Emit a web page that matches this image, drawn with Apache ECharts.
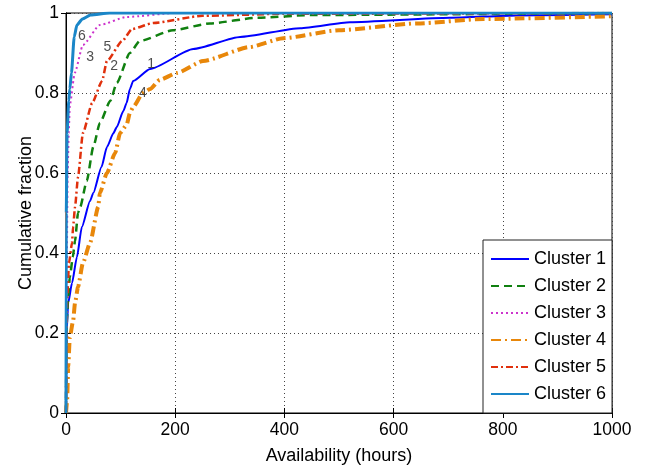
<!DOCTYPE html>
<html>
<head>
<meta charset="utf-8">
<script src="https://cdn.jsdelivr.net/npm/echarts@6/dist/echarts.min.js"></script>
<style>
  html, body { margin: 0; padding: 0; background: #fff; }
  #chart { width: 650px; height: 466px; }
</style>
</head>
<body>
<div id="chart"></div>
<script>
  // [hours, cumulative fraction]
  let cluster1 = [[0,0],[1,0.2],[4,0.275],[11,0.325],[20,0.39],[29,0.465],[44,0.53],[50,0.55],[65,0.615],[75,0.665],[87,0.7],[93,0.715],[105,0.755],[111,0.775],[117,0.81],[123,0.83],[154,0.86],[233,0.91],[319,0.94],[429,0.962],[520,0.977],[703,0.988],[826,0.994],[1000,0.997]];
  let cluster2 = [[0,0],[1,0.22],[4,0.29],[7,0.34],[12.5,0.39],[16.5,0.43],[22,0.5],[26,0.515],[38,0.58],[50,0.665],[62,0.725],[81,0.78],[93,0.825],[117,0.9],[135,0.93],[196,0.957],[264,0.974],[350,0.988],[450,0.995],[1000,1]];
  let cluster3 = [[0,0],[1,0.3],[3,0.6],[5,0.7],[7,0.77],[16,0.85],[31,0.92],[62,0.97],[111,0.99],[200,1],[1000,1]];
  let cluster4 = [[0,0],[2,0.03],[4,0.115],[7,0.19],[13,0.23],[16.5,0.275],[22,0.315],[31,0.375],[44,0.425],[59,0.515],[62,0.55],[75,0.6],[90,0.65],[99,0.7],[111,0.72],[117,0.75],[123,0.765],[141,0.8],[154,0.81],[172,0.833],[203,0.85],[251,0.88],[337,0.915],[398,0.937],[500,0.957],[643,0.974],[765,0.985],[1000,0.992]];
  let cluster5 = [[0,0],[1,0.2],[2,0.28],[5.5,0.375],[11,0.425],[13,0.465],[16.5,0.515],[22,0.59],[31,0.7],[48,0.775],[66,0.83],[75,0.88],[103,0.93],[121,0.96],[160,0.975],[250,0.993],[400,0.998],[1000,1]];
  let cluster6 = [[0,0],[0.5,0.5],[2,0.7],[5,0.78],[7,0.81],[10,0.85],[15,0.94],[20,0.97],[30,0.985],[45,0.995],[80,1],[1000,1]];

  let seriesNames = ['Cluster 1','Cluster 2','Cluster 3','Cluster 4','Cluster 5','Cluster 6'];
  let curveLabels = ['1','2','3','4','5','6'];
  let labelSpots = [[156,0.8725],[88,0.8675],[44,0.89],[141,0.8],[76,0.915],[29.3,0.9425]];
  let xTicks = [0,200,400,600,800,1000];
  let yTicks = [0,0.2,0.4,0.6,0.8,1];

  let chart = echarts.init(document.getElementById('chart'));
  let font = 'Liberation Sans, Arial, sans-serif';

  let styles = [
    {color:'#0000ff', width:2, type:'solid'},
    {color:'#108010', width:2.5, type:[8,5]},
    {color:'#cc33cc', width:2, type:[2,3]},
    {color:'#e8870a', width:4, type:[10,4,2,4]},
    {color:'#e0300c', width:2.5, type:[7,3,2,3]},
    {color:'#1a86c8', width:3, type:'solid'}
  ];
  let allData = [cluster1, cluster2, cluster3, cluster4, cluster5, cluster6];

  let series = allData.map(function (d, i) {
    return {
      name: seriesNames[i],
      type: 'line',
      data: d,
      showSymbol: false,
      symbol: 'none',
      smooth: 0.2,
      smoothMonotone: 'x',
      color: styles[i].color,
      lineStyle: {color: styles[i].color, width: styles[i].width, type: styles[i].type},
      z: 3
    };
  });

  series.push({
    type: 'scatter',
    symbolSize: 0,
    silent: true,
    z: 5,
    data: labelSpots.map(function (p, i) { return {value: p, name: curveLabels[i]}; }),
    label: {
      show: true,
      position: 'inside',
      formatter: '{b}',
      color: '#222',
      fontSize: 14,
      fontFamily: font
    }
  });

  let option = {
    backgroundColor: '#fff',
    animation: false,
    grid: {
      left: 66, right: 38, top: 13, bottom: 53,
      containLabel: false,
      outerBoundsMode: 'none',
      show: true, borderColor: '#000', borderWidth: 1
    },
    legend: {
      data: seriesNames,
      orient: 'vertical',
      left: 483,
      top: 240,
      itemWidth: 38,
      itemHeight: 14,
      itemGap: 9,
      padding: [10, 6, 10, 7],
      backgroundColor: '#fff',
      borderColor: '#222',
      borderWidth: 1,
      itemStyle: {opacity: 0},
      textStyle: {color: '#000', fontSize: 18, fontFamily: font}
    },
    xAxis: [{
      type: 'value',
      min: 0, max: 1000, interval: 200,
      name: 'Availability (hours)',
      nameLocation: 'middle',
      nameGap: 34,
      nameMoveOverlap: false,
      nameTextStyle: {color: '#000', fontSize: 18, fontFamily: font},
      axisLine: {show: true, lineStyle: {color: '#000'}},
      axisTick: {show: true, inside: true, length: 5, lineStyle: {color: '#000'}},
      axisLabel: {color: '#000', fontSize: 17.5, fontFamily: font, margin: 8,
        formatter: function (v) { return xTicks.indexOf(v) >= 0 ? String(v) : ''; }},
      splitLine: {show: true, lineStyle: {color: '#444', type: [1, 3]}}
    }, {
      type: 'value', position: 'top',
      min: 0, max: 1000, interval: 200,
      axisLine: {show: true, lineStyle: {color: '#000'}},
      axisTick: {show: true, inside: true, length: 5, lineStyle: {color: '#000'}},
      axisLabel: {show: false},
      splitLine: {show: false}
    }],
    yAxis: [{
      type: 'value',
      min: 0, max: 1, interval: 0.2,
      name: 'Cumulative fraction',
      nameLocation: 'middle',
      nameGap: 31,
      nameMoveOverlap: false,
      nameTextStyle: {color: '#000', fontSize: 18, fontFamily: font},
      axisLine: {show: true, lineStyle: {color: '#000'}},
      axisTick: {show: true, inside: true, length: 5, lineStyle: {color: '#000'}},
      axisLabel: {color: '#000', fontSize: 17.5, fontFamily: font, margin: 7,
        formatter: function (v) { return yTicks.indexOf(v) >= 0 ? String(v) : ''; }},
      splitLine: {show: true, lineStyle: {color: '#444', type: [1, 3]}}
    }, {
      type: 'value', position: 'right',
      min: 0, max: 1, interval: 0.2,
      axisLine: {show: true, lineStyle: {color: '#000'}},
      axisTick: {show: true, inside: true, length: 5, lineStyle: {color: '#000'}},
      axisLabel: {show: false},
      splitLine: {show: false}
    }],
    series: series
  };

  chart.setOption(option);
</script>
</body>
</html>
